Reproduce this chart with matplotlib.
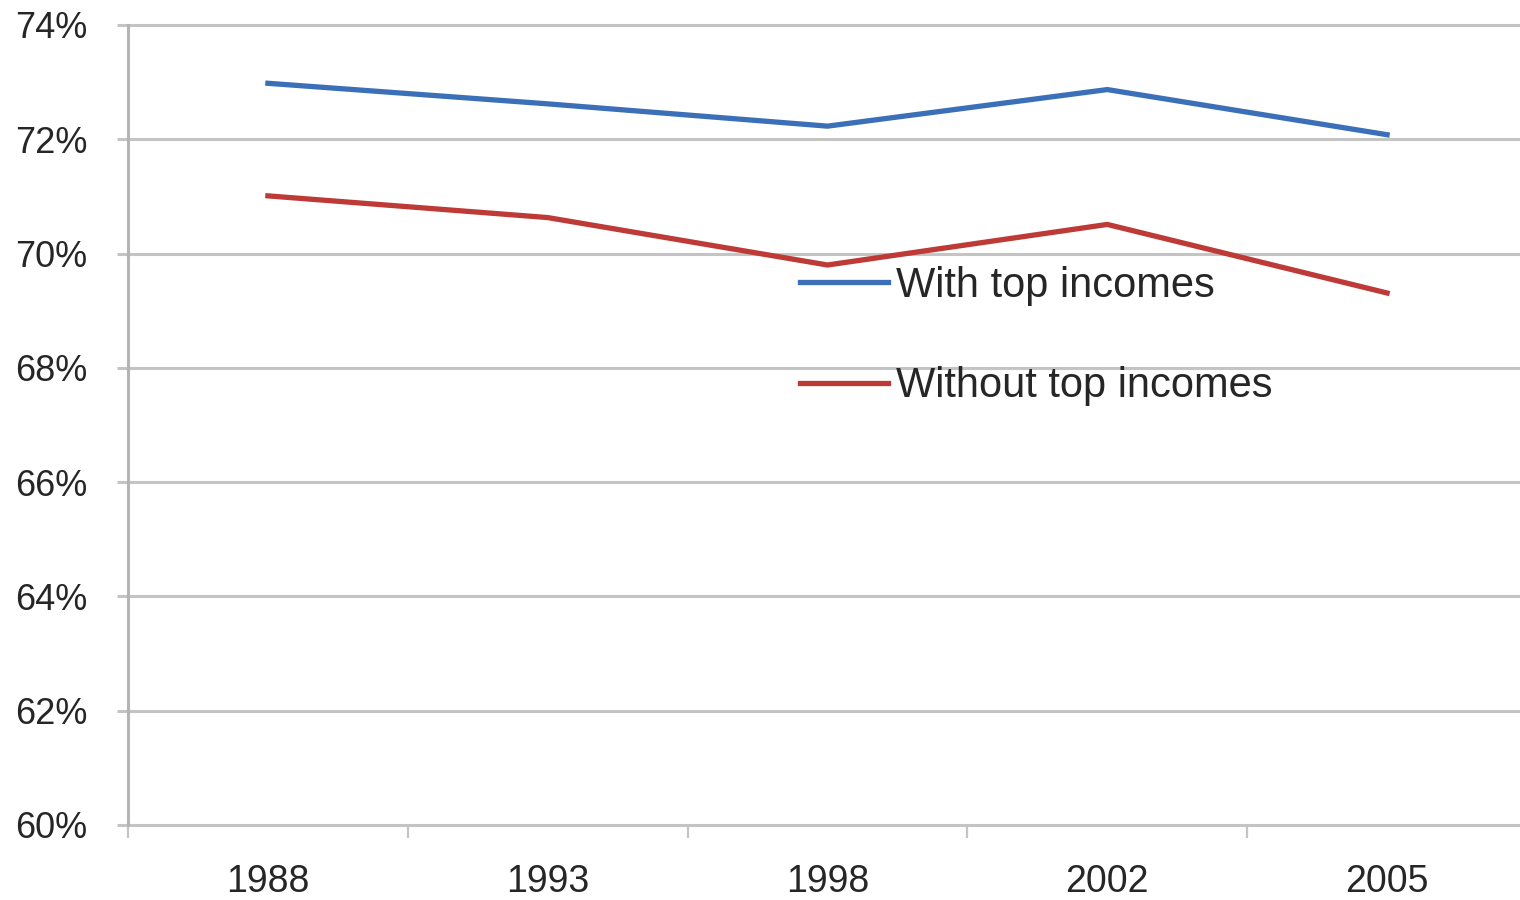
import matplotlib
matplotlib.use("Agg")
import matplotlib.pyplot as plt
from matplotlib.ticker import FixedLocator, PercentFormatter

years = ["1988", "1993", "1998", "2002", "2005"]
with_top = [72.98, 72.62, 72.23, 72.87, 72.08]
without_top = [71.01, 70.63, 69.80, 70.51, 69.31]
labels = ["With top incomes", "Without top incomes"]
y_ticks = [60, 62, 64, 66, 68, 70, 72, 74]

blue = "#3b70b8"
red = "#be3a36"
grid_c = "#c4c4c4"
text_c = "#262626"

fig = plt.figure(figsize=(15.2, 9.0), dpi=100)
W, H = 1520, 900
ax = fig.add_axes([128 / W, 1 - 825 / H, (1527 - 128) / W, (825 - 25) / H])

x = list(range(len(years)))
ax.plot(x, with_top, color=blue, lw=3.8, label=labels[0], solid_joinstyle="miter", zorder=3)
ax.plot(x, without_top, color=red, lw=3.8, label=labels[1], solid_joinstyle="miter", zorder=3)

ax.set_xlim(-0.5, len(years) - 0.5)
ax.set_ylim(y_ticks[0], y_ticks[-1])

for yv in y_ticks:
    ax.axhline(yv, color=grid_c, lw=2.2, zorder=1, clip_on=False)

for s in ["top", "right", "bottom"]:
    ax.spines[s].set_visible(False)
ax.spines["left"].set_color("#b4b4b4")
ax.spines["left"].set_linewidth(2.2)
ax.spines["left"].set_zorder(2)

ax.yaxis.set_major_locator(FixedLocator(y_ticks))
ax.yaxis.set_major_formatter(PercentFormatter(decimals=0))
ax.tick_params(axis="y", length=8, width=2.2, color=grid_c, pad=21,
               labelsize=26, labelcolor=text_c)
for t in ax.get_yticklabels():
    t.set_family(["Liberation Sans", "DejaVu Sans"])

ax.set_xticks(x)
ax.set_xticklabels(years)
ax.xaxis.set_minor_locator(FixedLocator([i - 0.5 for i in range(len(years))]))
ax.tick_params(axis="x", which="major", length=0, pad=28, labelsize=27, labelcolor=text_c)
ax.tick_params(axis="x", which="minor", length=9, width=1.6, color=grid_c)
for t in ax.get_xticklabels():
    t.set_family(["Liberation Sans Narrow", "Liberation Sans", "DejaVu Sans"])

leg = ax.legend(loc="center left", bbox_to_anchor=(800 / W, 1 - 336 / H),
                bbox_transform=fig.transFigure, frameon=False,
                borderpad=0, borderaxespad=0, handlelength=2.1, handletextpad=0.2,
                labelspacing=1.45,
                prop={"family": ["Liberation Sans", "DejaVu Sans"], "size": 30})
for t in leg.get_texts():
    t.set_color(text_c)

fig.savefig("out.png", dpi=100)
